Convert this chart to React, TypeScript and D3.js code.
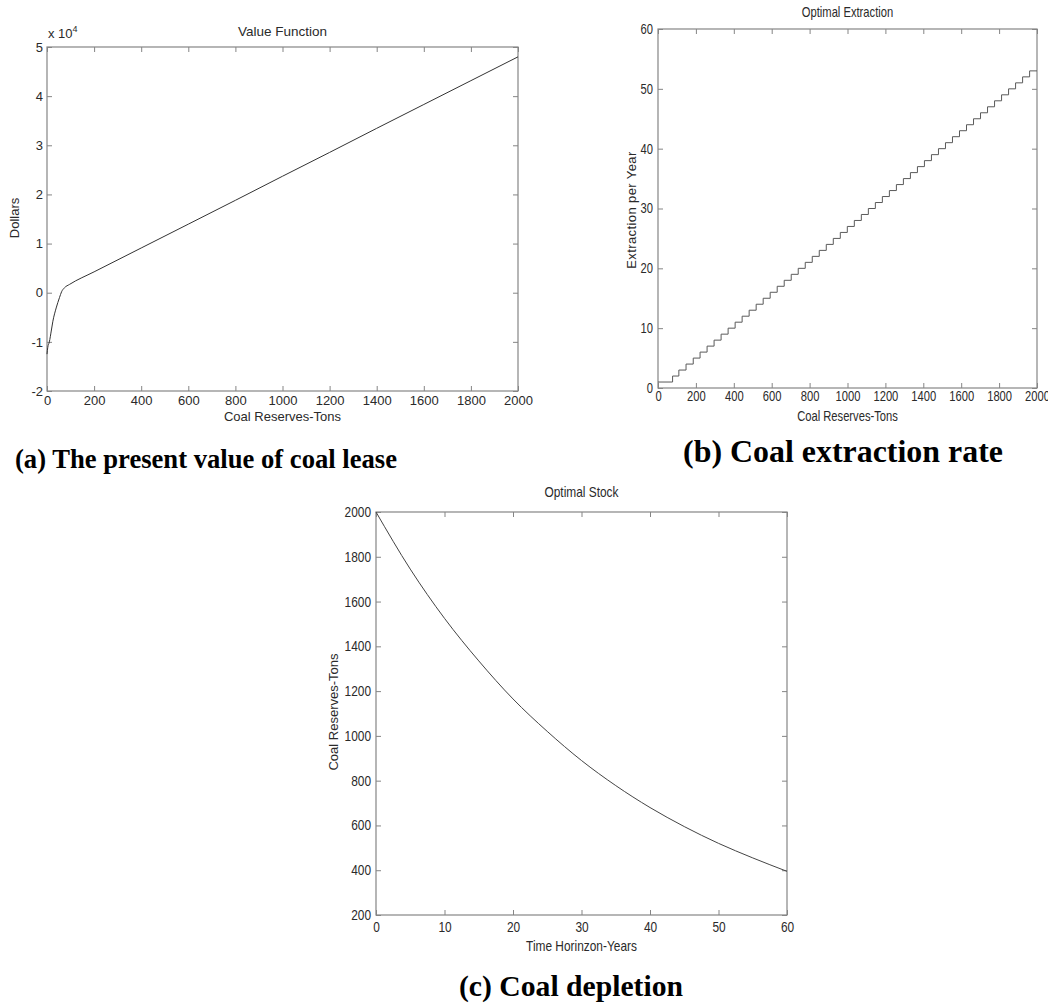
import * as d3 from 'd3';
import { useEffect, useRef } from 'react';

// (a) value function: reserves (tons) vs present value (dollars)
const reserveGrid = [0, 3, 10, 18, 25, 39, 53, 62, 74, 96, 200, 400, 600, 800, 1000, 1200, 1400, 1600, 1800, 2000];
const valueDollars = [-12500, -11200, -10000, -7800, -5800, -3100, -1000, 200, 1000, 1700, 4250, 9100, 13950, 18800, 23700, 28550, 33450, 38300, 43150, 48000];

// (b) optimal extraction: reserve level where each extraction step starts
const extractionBreaks = [0, 77, 110, 148, 186, 222, 259, 296, 333, 370, 407, 444, 481, 518, 555, 592, 629, 666, 703, 740, 777, 814, 851, 888, 925, 962, 999, 1036, 1073, 1110, 1147, 1184, 1221, 1258, 1295, 1332, 1369, 1406, 1443, 1480, 1517, 1554, 1591, 1628, 1665, 1702, 1739, 1776, 1813, 1850, 1887, 1924, 1961, 2000];
const extractionLevels = [1, 2, 3, 4, 5, 6, 7, 8, 9, 10, 11, 12, 13, 14, 15, 16, 17, 18, 19, 20, 21, 22, 23, 24, 25, 26, 27, 28, 29, 30, 31, 32, 33, 34, 35, 36, 37, 38, 39, 40, 41, 42, 43, 44, 45, 46, 47, 48, 49, 50, 51, 52, 53, 53];

// (c) optimal stock over the time horizon
const years = [0, 5, 10, 15, 20, 25, 30, 35, 40, 45, 50, 55, 60];
const stockTons = [2000, 1745, 1525, 1335, 1165, 1020, 890, 778, 680, 595, 520, 455, 395];

const reserveTicks = [0, 200, 400, 600, 800, 1000, 1200, 1400, 1600, 1800, 2000];
const valueTicks = [-20000, -10000, 0, 10000, 20000, 30000, 40000, 50000];
const extractionTicks = [0, 10, 20, 30, 40, 50, 60];
const yearTicks = [0, 10, 20, 30, 40, 50, 60];
const stockTicks = [200, 400, 600, 800, 1000, 1200, 1400, 1600, 1800, 2000];

const FONT = "'Liberation Sans', Arial, sans-serif";
const SERIF = "'Liberation Serif', 'Times New Roman', serif";
const FRAME = '#858585';
const INK = '#2a2a2a';

function drawPanel(root, o) {
  const g = root.append('g');
  const x = d3.scaleLinear().domain(o.xDomain).range([o.left, o.right]);
  const y = d3.scaleLinear().domain(o.yDomain).range([o.bottom, o.top]);
  const sq = o.squeeze;

  const styleAxis = (sel, squeezeX) => {
    sel.select('.domain').remove();
    sel.selectAll('line').attr('stroke', FRAME);
    sel.selectAll('text')
      .attr('fill', INK)
      .style('font-family', FONT)
      .style('font-size', o.tickSize + 'px');
    if (squeezeX) {
      sel.selectAll('text').each(function () {
        const t = d3.select(this);
        const cx = +t.attr('x') || 0;
        t.attr('x', cx / sq).attr('transform', `scale(${sq},1)`);
      });
    }
  };

  g.append('g')
    .attr('transform', `translate(0,${o.bottom})`)
    .call(d3.axisBottom(x).tickValues(o.xTicks).tickSize(-5).tickPadding(o.xPad).tickFormat(d => String(d)))
    .call(s => styleAxis(s, true));
  g.append('g')
    .attr('transform', `translate(0,${o.top})`)
    .call(d3.axisTop(x).tickValues(o.xTicks).tickSize(-5).tickFormat(() => ''))
    .call(s => styleAxis(s, false));
  g.append('g')
    .attr('transform', `translate(${o.left},0)`)
    .call(d3.axisLeft(y).tickValues(o.yTicks).tickSize(-5).tickPadding(o.yPad).tickFormat(o.yFormat))
    .call(s => styleAxis(s, true));
  g.append('g')
    .attr('transform', `translate(${o.right},0)`)
    .call(d3.axisRight(y).tickValues(o.yTicks).tickSize(-5).tickFormat(() => ''))
    .call(s => styleAxis(s, false));

  g.append('rect')
    .attr('x', o.left).attr('y', o.top)
    .attr('width', o.right - o.left).attr('height', o.bottom - o.top)
    .attr('fill', 'none').attr('stroke', FRAME).attr('stroke-width', 1.2);

  const line = d3.line().x(d => x(d[0])).y(d => y(d[1])).curve(o.curve);
  g.append('path')
    .datum(o.points)
    .attr('d', line)
    .attr('fill', 'none')
    .attr('stroke', o.color)
    .attr('stroke-width', 1);

  const cx = (o.left + o.right) / 2;
  const txt = (tx, ty, s, size, squeeze) =>
    g.append('text')
      .attr('x', squeeze ? tx / sq : tx).attr('y', ty)
      .attr('transform', squeeze ? `scale(${sq},1)` : null)
      .attr('text-anchor', 'middle')
      .attr('fill', INK)
      .style('font-family', FONT)
      .style('font-size', size + 'px')
      .text(s);

  txt(cx, o.titleY, o.title, o.titleSize, true);
  txt(cx, o.xLabelY, o.xLabel, o.labelSize, true);
  g.append('text')
    .attr('transform', `translate(${o.yLabelX},${o.yLabelCY}) rotate(-90)`)
    .attr('text-anchor', 'middle')
    .attr('dy', '0.35em')
    .attr('fill', INK)
    .style('font-family', FONT)
    .style('font-size', '13px')
    .style('letter-spacing', o.yLabelSpacing || '0px')
    .text(o.yLabel);
  return g;
}

export default function App() {
  const ref = useRef(null);

  useEffect(() => {
    const svg = d3.select(ref.current);
    svg.selectAll('*').remove();

    // (a) Value Function
    const ga = drawPanel(svg, {
      left: 47, top: 47, right: 518, bottom: 391,
      xDomain: [0, 2000], yDomain: [-20000, 50000],
      xTicks: reserveTicks, yTicks: valueTicks,
      yFormat: d => String(d / 10000),
      tickSize: 13, squeeze: 1, xPad: 5, yPad: 4,
      points: reserveGrid.map((r, i) => [r, valueDollars[i]]),
      curve: d3.curveMonotoneX, color: '#333',
      title: 'Value Function', titleY: 36, titleSize: 13.5,
      xLabel: 'Coal Reserves-Tons', xLabelY: 421, labelSize: 13,
      yLabel: 'Dollars', yLabelX: 14, yLabelCY: 218,
    });
    const mult = ga.append('text')
      .attr('x', 48).attr('y', 38)
      .attr('fill', INK)
      .style('font-family', FONT)
      .style('font-size', '13px');
    mult.append('tspan').text('x 10');
    mult.append('tspan').attr('dy', -6).style('font-size', '9px').text('4');

    // (b) Optimal Extraction
    drawPanel(svg, {
      left: 658, top: 29, right: 1037, bottom: 388,
      xDomain: [0, 2000], yDomain: [0, 60],
      xTicks: reserveTicks, yTicks: extractionTicks,
      yFormat: d => String(d),
      tickSize: 14, squeeze: 0.8, xPad: 3, yPad: 5,
      points: extractionBreaks.map((r, i) => [r, extractionLevels[i]]),
      curve: d3.curveStepAfter, color: '#5a5a5a',
      title: 'Optimal Extraction', titleY: 17, titleSize: 14,
      xLabel: 'Coal Reserves-Tons', xLabelY: 421, labelSize: 14,
      yLabel: 'Extraction per Year', yLabelX: 631, yLabelCY: 210, yLabelSpacing: '0.4px',
    });

    // (c) Optimal Stock
    drawPanel(svg, {
      left: 376, top: 512, right: 787, bottom: 915,
      xDomain: [0, 60], yDomain: [200, 2000],
      xTicks: yearTicks, yTicks: stockTicks,
      yFormat: d => String(d),
      tickSize: 14, squeeze: 0.85, xPad: 7, yPad: 5,
      points: years.map((t, i) => [t, stockTons[i]]),
      curve: d3.curveMonotoneX, color: '#444',
      title: 'Optimal Stock', titleY: 497, titleSize: 14,
      xLabel: 'Time Horinzon-Years', xLabelY: 951, labelSize: 14,
      yLabel: 'Coal Reserves-Tons', yLabelX: 333, yLabelCY: 712,
    });

    // figure captions
    const captions = [
      { s: '(a)  The present value of coal lease', x: 15, y: 468, size: 27, len: 382 },
      { s: '(b) Coal extraction rate', x: 683, y: 462, size: 31, len: 320 },
      { s: '(c) Coal depletion', x: 459, y: 996, size: 29, len: 224 },
    ];
    svg.selectAll('text.caption')
      .data(captions)
      .enter()
      .append('text')
      .attr('class', 'caption')
      .attr('x', d => d.x)
      .attr('y', d => d.y)
      .attr('textLength', d => d.len)
      .attr('lengthAdjust', 'spacingAndGlyphs')
      .attr('fill', '#000')
      .style('font-family', SERIF)
      .style('font-weight', 'bold')
      .style('font-size', d => d.size + 'px')
      .text(d => d.s);
  }, []);

  return (
    <svg
      ref={ref}
      width={1048}
      height={1005}
      style={{ position: 'absolute', left: 0, top: 0, background: '#fff' }}
    />
  );
}
